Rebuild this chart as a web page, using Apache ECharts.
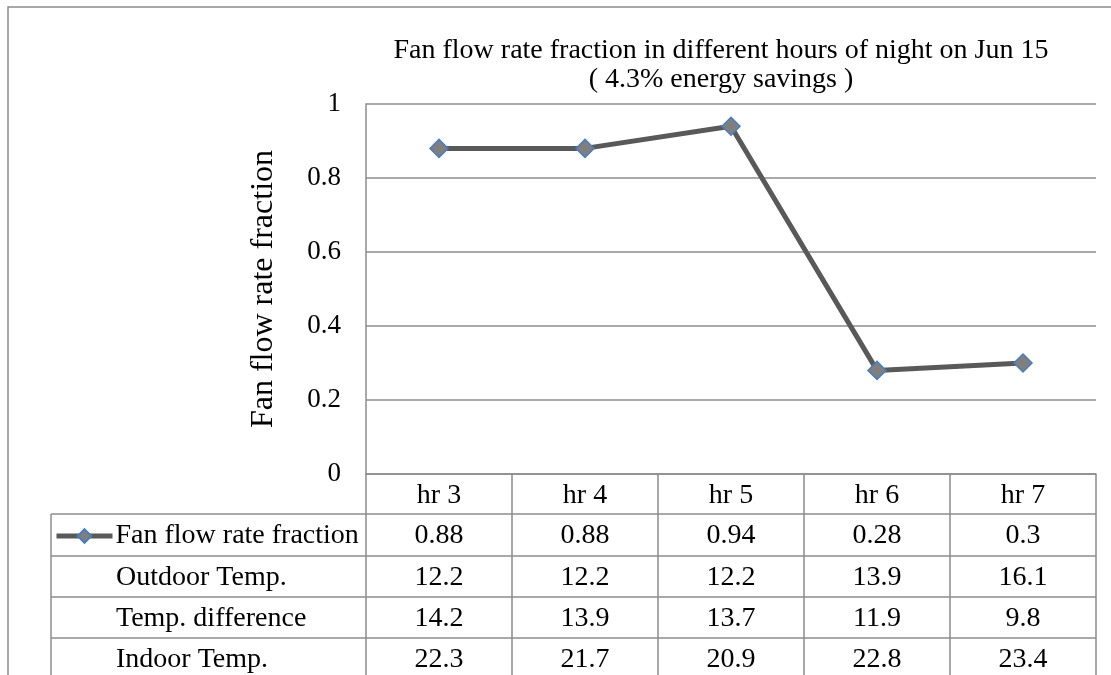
<!DOCTYPE html>
<html><head><meta charset="utf-8">
<script src="https://cdn.jsdelivr.net/npm/echarts@6/dist/echarts.min.js"></script>
<style>html,body{margin:0;padding:0;background:#fff}#c{width:1111px;height:675px}</style>
</head><body><div id="c"></div>
<script>
const categories = ['hr 3','hr 4','hr 5','hr 6','hr 7'];
const fanFlow = [0.88,0.88,0.94,0.28,0.3];
const outdoorTemp = [12.2,12.2,12.2,13.9,16.1];
const tempDiff = [14.2,13.9,13.7,11.9,9.8];
const indoorTemp = [22.3,21.7,20.9,22.8,23.4];
const yTicks = [0,0.2,0.4,0.6,0.8,1];
const rowLabels = ['Fan flow rate fraction','Outdoor Temp.','Temp. difference','Indoor Temp.'];

const FONT = '"Liberation Serif","Times New Roman",serif';
const GRAY = '#8c8c8c';
const chart = echarts.init(document.getElementById('c'), null, {renderer:'canvas'});
const gridL = 366, gridR = 15, gridT = 104, gridB = 201;
chart.setOption({
  animation:false,
  backgroundColor:'#fff',
  title:{text:'Fan flow rate fraction in different hours of night on Jun 15\n( 4.3% energy savings )',
    left:716, top:31, textAlign:'center',
    textStyle:{fontFamily:FONT,fontSize:28,fontWeight:'normal',color:'#000',lineHeight:29}},
  legend:{data:[rowLabels[0]], left:49, top:517, itemWidth:56, itemHeight:17, itemGap:4,
    lineStyle:{width:5},
    textStyle:{fontFamily:FONT,fontSize:28,color:'#000',padding:[0,0,0,-2]}},
  grid:{left:gridL,right:gridR,top:gridT,bottom:gridB},
  xAxis:{type:'category',data:categories,boundaryGap:true,
    axisLine:{lineStyle:{color:GRAY,width:1.5}},
    axisTick:{show:true,length:gridB+10,lineStyle:{color:GRAY,width:1.5}},
    axisLabel:{fontFamily:FONT,fontSize:28,color:'#000',margin:8}},
  yAxis:{type:'value',min:0,max:1,interval:0.2,
    name:'Fan flow rate fraction',nameLocation:'middle',nameGap:86,
    nameTextStyle:{fontFamily:FONT,fontSize:32,color:'#000',padding:[0,0,0,0]},
    axisLine:{show:true,lineStyle:{color:GRAY,width:1.5}},
    axisTick:{show:false},
    splitLine:{lineStyle:{color:GRAY,width:1.5}},
    axisLabel:{fontFamily:FONT,fontSize:27,color:'#000',margin:25,
      formatter:v=>String(yTicks.find(t=>Math.abs(t-v)<1e-9) ?? v)}},
  series:[{name:rowLabels[0],type:'line',data:fanFlow,symbol:'diamond',symbolSize:18,
    lineStyle:{color:'#595959',width:5},
    itemStyle:{color:'#7f7f7f',borderColor:'#4a7ebb',borderWidth:1.5}}]
});

const rowYs = [514,556,597,638,680];
const tableLeft = 51;
const plotRight = 1111 - gridR;
const rowsData = [fanFlow,outdoorTemp,tempDiff,indoorTemp];
const g = [];
g.push({type:'rect',shape:{x:8,y:7,width:1300,height:900},style:{fill:'none',stroke:GRAY,lineWidth:1.5},silent:true,z:-1});
for(let i=0;i<4;i++){
  g.push({type:'line',shape:{x1:tableLeft,y1:rowYs[i],x2:plotRight,y2:rowYs[i]},style:{stroke:GRAY,lineWidth:1.5},z:1});
}
g.push({type:'line',shape:{x1:tableLeft,y1:rowYs[0],x2:tableLeft,y2:700},style:{stroke:GRAY,lineWidth:1.5},z:1});
for(let r=0;r<4;r++){
  const cy=(rowYs[r]+rowYs[r+1])/2+1;
  if(r>0) g.push({type:'text',x:116,y:cy,style:{text:rowLabels[r],font:'28px '+FONT,fill:'#000',textVerticalAlign:'middle',textAlign:'left'},z:2});
  rowsData[r].forEach((v,i)=>{
    const x=chart.convertToPixel({xAxisIndex:0},categories[i]);
    g.push({type:'text',x:x,y:cy,style:{text:String(v),font:'28px '+FONT,fill:'#000',textAlign:'center',textVerticalAlign:'middle'},z:2});
  });
}
chart.setOption({graphic:g});
</script></body></html>
